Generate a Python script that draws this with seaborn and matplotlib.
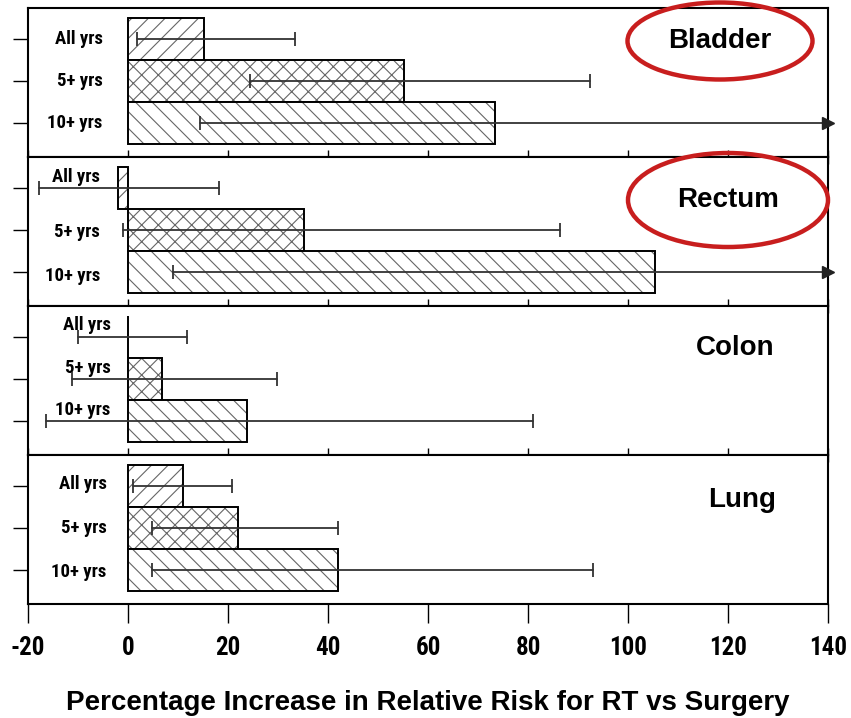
import numpy as np
import pandas as pd
import matplotlib
matplotlib.use("Agg")
import matplotlib.pyplot as plt
from matplotlib.patches import Ellipse
from matplotlib import font_manager
import seaborn as sns

# ---------------- data ----------------
periods = ["All yrs", "5+ yrs", "10+ yrs"]
sites = ["Bladder", "Rectum", "Colon", "Lung"]

bladder_pct = [15.2, 55.2, 73.3]
bladder_lo = [1.8, 24.3, 14.3]
bladder_hi = [33.3, 92.4, np.inf]

rectum_pct = [-2.0, 35.2, 105.3]
rectum_lo = [-17.8, -1.0, 9.0]
rectum_hi = [18.2, 86.3, np.inf]

colon_pct = [0.0, 6.8, 23.8]
colon_lo = [-10.0, -11.3, -16.4]
colon_hi = [11.8, 29.8, 81.0]

lung_pct = [11.0, 22.0, 42.0]
lung_lo = [1.0, 4.8, 4.8]
lung_hi = [20.8, 42.0, 93.0]

x_ticks = [-20, 0, 20, 40, 60, 80, 100, 120, 140]
x_label = "Percentage Increase in Relative Risk for RT vs Surgery"

panels = [
    (bladder_pct, bladder_lo, bladder_hi),
    (rectum_pct, rectum_lo, rectum_hi),
    (colon_pct, colon_lo, colon_hi),
    (lung_pct, lung_lo, lung_hi),
]

# ---------------- style ----------------
sns.set_style("white")
available = {f.name for f in font_manager.fontManager.ttflist}
cands = ["Liberation Sans Narrow", "Roboto Condensed", "DejaVu Sans Condensed",
         "Liberation Sans"]
narrow = [c for c in cands if c in available] + ["DejaVu Sans"]
wide = ["Liberation Sans", "DejaVu Sans"]
plt.rcParams["font.family"] = narrow
plt.rcParams["text.color"] = "black"
plt.rcParams["axes.labelcolor"] = "black"
plt.rcParams["xtick.color"] = "black"
plt.rcParams["ytick.color"] = "black"
plt.rcParams["axes.unicode_minus"] = False
plt.rcParams["hatch.linewidth"] = 0.8

W, H = 851, 718
fig = plt.figure(figsize=(W / 100, H / 100), dpi=100)
gs = fig.add_gridspec(4, 1, hspace=0, left=28 / W, right=828 / W,
                      top=1 - 8 / H, bottom=1 - 604 / H)

hatches = ["//", "xx", "\\\\"]
title_pos = [(720, 48), (728, 207), (735, 355), (742, 507)]
label_dy = [[0, 0, 0], [-0.27, 0.05, 0.1], [-0.28, -0.25, -0.26], [-0.05, 0, 0.05]]
label_x = [0.093, 0.090, 0.103, 0.098]
xmin, xmax = x_ticks[0], x_ticks[-1]
hatch_rgba = (0.4, 0.4, 0.4, 1.0)

for k, (pct, lo, hi) in enumerate(panels):
    ax = fig.add_subplot(gs[k, 0])
    df = pd.DataFrame({"period": periods, "pct": pct})
    sns.barplot(data=df, x="pct", y="period", order=periods, color="white",
                edgecolor="black", linewidth=1.4, width=1.0, errorbar=None,
                saturation=1, ax=ax)
    for p, h in zip(ax.patches, hatches):
        p.set_hatch(h)
        p.set_facecolor("white")
        p.set_edgecolor("black")
        if hasattr(p, "set_hatchcolor"):
            p.set_hatchcolor(hatch_rgba)
        else:
            p._hatch_color = hatch_rgba

    for i in range(3):
        right = hi[i] if np.isfinite(hi[i]) else xmax
        ax.plot([lo[i], right], [i, i], color="#333333", lw=1.3, zorder=5)
        ax.plot([lo[i]], [i], marker="|", ms=10, mew=1.3, color="#333333", zorder=5)
        if np.isfinite(hi[i]):
            ax.plot([hi[i]], [i], marker="|", ms=10, mew=1.3, color="#333333", zorder=5)
        else:
            ax.plot([xmax], [i], marker=">", ms=8, color="#222222", zorder=6,
                    clip_on=False)
        ax.text(label_x[k], i + label_dy[k][i], periods[i],
                transform=ax.get_yaxis_transform(), ha="right", va="center",
                fontsize=13.5, fontweight="bold", family=narrow)

    ax.set_xlim(xmin, xmax)
    ax.set_ylim(2.82, -0.74)
    ax.set_yticks(range(3))
    ax.set_yticklabels([])
    ax.set_ylabel("")
    ax.set_xlabel("")
    ax.set_xticks(x_ticks)
    ax.tick_params(axis="y", direction="out", length=11, width=1, left=True)
    for s in ax.spines.values():
        s.set_visible(True)
        s.set_linewidth(1.5)
        s.set_color("black")

    tx, ty = title_pos[k]
    fig.text(tx / W, 1 - ty / H, sites[k], ha="center", va="baseline",
             fontsize=20, fontweight="bold", family=wide)

    if k < 3:
        ax.tick_params(axis="x", direction="inout", length=10, width=1,
                       bottom=True, labelbottom=False)
    else:
        ax.tick_params(axis="x", direction="out", length=14, width=1,
                       bottom=True, labelsize=18, pad=9)
        ax.set_xticklabels([str(v) for v in x_ticks])
        for t in ax.get_xticklabels():
            t.set_fontweight("bold")

fig.text(0.5 * (28 + 828) / W, 1 - 710 / H, x_label, ha="center", va="baseline",
         fontsize=20, fontweight="bold", family=wide)

# red ellipses around highlighted sites
for (cx, cy, ew, eh) in [(720, 41, 185, 77), (728, 200, 200, 94)]:
    e = Ellipse((cx / W, 1 - cy / H), ew / W, eh / H, transform=fig.transFigure,
                fill=False, edgecolor="#c81e1e", lw=3.2, zorder=10)
    fig.patches.append(e)

fig.savefig("out.png", dpi=100)
